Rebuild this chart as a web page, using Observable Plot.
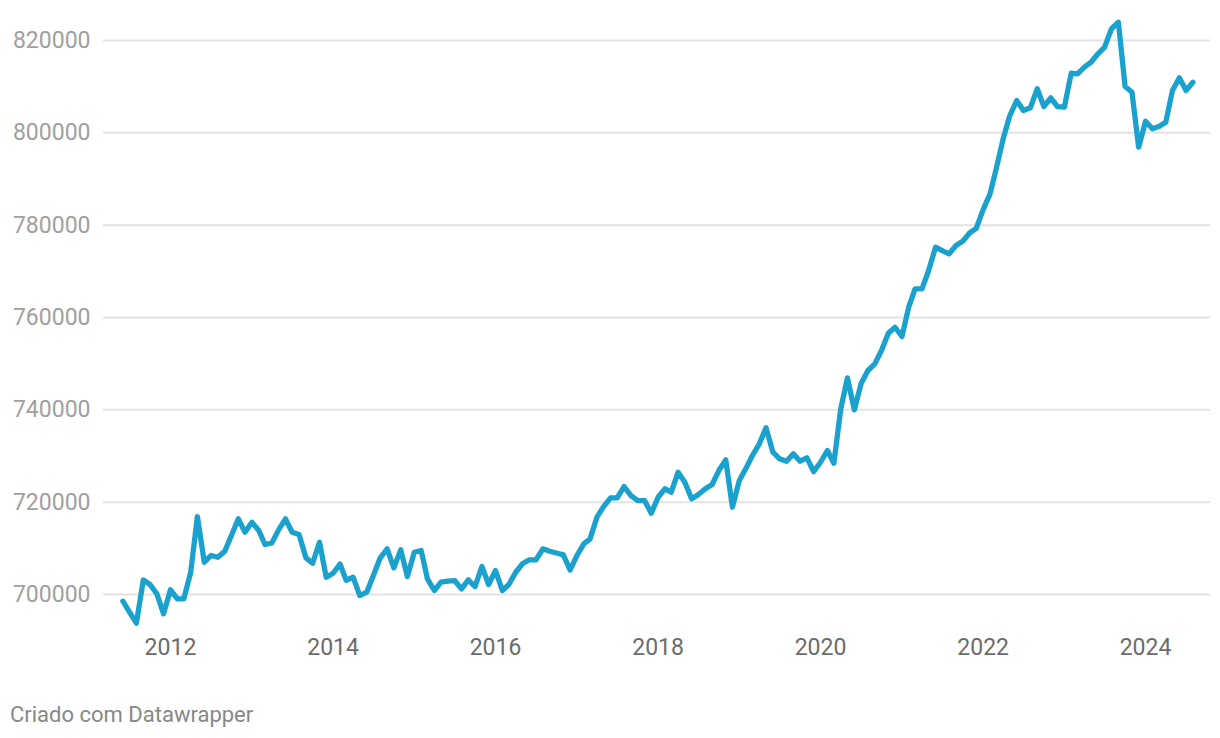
<!DOCTYPE html>
<html><head><meta charset="utf-8">
<script src="https://cdn.jsdelivr.net/npm/d3@7"></script>
<script src="https://cdn.jsdelivr.net/npm/@observablehq/plot@0.6"></script>
<style>
body{margin:0;background:#fff;font-family:Roboto,sans-serif;}
#chart{width:1220px;}
#chart svg{display:block;}
.caption{font-size:22px;line-height:24px;color:#888;margin:23px 0 0 10px;font-family:Roboto,sans-serif;}
</style></head><body>
<div id="chart"></div>
<div class="caption">Criado com Datawrapper</div>
<script>
// Monthly values, first month June 2011
const firstYear = 2011, firstMonth = 6;
const values = [
  // 2011 Jun-Dec
  698550, 696200, 693800, 703180, 702170, 700150, 695820,
  // 2012
  701020, 699070, 699070, 704830, 716890, 707000, 708450, 708080, 709380, 712780, 716400, 713500,
  // 2013
  715660, 713860, 710830, 711190, 714010, 716400, 713500, 713000, 707940, 706780, 711330, 703750,
  // 2014
  704610, 706600, 703100, 703750, 699780, 700500, 704120, 707950, 709900, 705780, 709680, 703900,
  // 2015
  709160, 709530, 703400, 700870, 702670, 702900, 703030, 701230, 703180, 701730, 706060, 702170,
  // 2016
  705200, 700870, 702170, 704830, 706650, 707520, 707520, 709900, 709380, 709000, 708600, 705300,
  // 2017
  708450, 710970, 712060, 716750, 719060, 720940, 720940, 723390, 721440, 720360, 720360, 717610,
  // 2018
  721080, 722900, 722160, 726490, 724330, 720720, 721660, 722900, 723830, 726860, 729170, 718920,
  // 2019
  724690, 727440, 730110, 732640, 736110, 730820, 729390, 728870, 730470, 728870, 729610, 726600,
  // 2020
  728650, 731190, 728440, 740220, 746930, 740000, 745640, 748520, 749970, 752850, 756600, 757900,
  // 2021
  755880, 762380, 766210, 766210, 770180, 775230, 774510, 773790, 775600, 776500, 778300, 779300,
  // 2022
  783360, 786790, 792270, 798700, 803750, 807000, 804830, 805420, 809540, 805700, 807580, 805700,
  // 2023
  805560, 812920, 812780, 814230, 815300, 817120, 818570, 822540, 823960, 810030, 808800, 796890,
  // 2024 Jan-Aug
  802520, 800870, 801370, 802300, 809170, 811920, 809170, 810970
];
const yTicks = [700000, 720000, 740000, 760000, 780000, 800000, 820000];
const xTickYears = [2012, 2014, 2016, 2018, 2020, 2022, 2024];
const captionText = "Criado com Datawrapper";

const data = values.map((v, i) => ({
  date: new Date(Date.UTC(firstYear, firstMonth - 1 + i, 1)),
  value: v
}));
const xTicks = xTickYears.map(y => new Date(Date.UTC(y, 0, 1)));

const chart = Plot.plot({
  width: 1220,
  height: 680,
  marginLeft: 103,
  marginRight: 10,
  marginTop: 12.3,
  marginBottom: 39.8,
  style: {fontFamily: "Roboto, sans-serif", fontSize: "23px", background: "#fff", overflow: "visible"},
  x: {type: "utc", domain: [new Date(Date.UTC(2011, 2, 6)), new Date(Date.UTC(2024, 9, 19))]},
  y: {domain: [690000, 826000]},
  marks: [
    Plot.gridY(yTicks, {stroke: "#e3e3e3", strokeOpacity: 1, strokeWidth: 2}),
    Plot.axisY(yTicks, {tickSize: 0, tickPadding: 13, tickFormat: d => String(d), color: "#a0a0a0", label: null}),
    Plot.axisX(xTicks, {tickSize: 0, tickPadding: 0, dy: -2, tickFormat: d3.utcFormat("%Y"), color: "#6b6b6b", label: null}),
    Plot.lineY(data, {x: "date", y: "value", stroke: "#1aa1cd", strokeWidth: 5.3, strokeLinejoin: "round", strokeLinecap: "round"})
  ]
});
document.getElementById("chart").appendChild(chart);
document.querySelector(".caption").textContent = captionText;
</script>
</body></html>
